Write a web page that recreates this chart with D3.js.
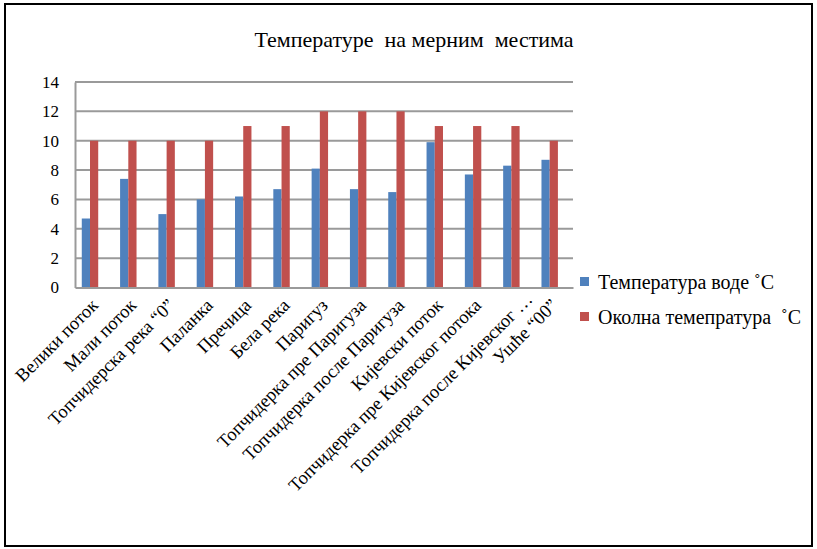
<!DOCTYPE html>
<html><head><meta charset="utf-8">
<script src="https://cdn.jsdelivr.net/npm/d3@7"></script>
<style>
html,body{margin:0;padding:0;background:#fff;}
svg{display:block;}
text{font-family:"Liberation Serif","Times New Roman",serif;fill:#000;}
</style></head>
<body>
<script>
const categories = ["Велики поток","Мали поток","Топчидерска река “0”","Паланка","Пречица","Бела река","Паригуз","Топчидерка пре Паригуза","Топчидерка после Паригуза","Кијевски поток","Топчидерка пре Кијевског потока","Топчидерка после Кијевског …","Ушће “00”"];
const waterTemp = [4.7,7.4,5.0,6.0,6.2,6.7,8.1,6.7,6.5,9.9,7.7,8.3,8.7];
const airTemp = [10,10,10,10,11,11,12,12,12,11,11,11,10];
const seriesNames = ["Температура воде ˚C","Околна темепратура  ˚C"];
const seriesColors = ["#4F81BD","#C0504D"];
const yTicks = [0,2,4,6,8,10,12,14];
const title = "Температуре  на мерним  местима";

const W = 817, H = 549;
const svg = d3.select("body").append("svg").attr("width",W).attr("height",H);
svg.append("rect").attr("x",5).attr("y",4).attr("width",807).attr("height",542)
  .attr("fill","#fff").attr("stroke","#000").attr("stroke-width",2);

const plot = {left:75, right:573, top:82, bottom:287.5};
const x = d3.scaleBand().domain(categories).range([plot.left, plot.right]).padding(0);
const y = d3.scaleLinear().domain([0,14]).range([plot.bottom, plot.top]);
const inner = d3.scaleBand().domain(seriesNames).range([0, x.bandwidth()])
  .paddingInner(0).paddingOuter(1.33).align(0.31);

svg.append("text").attr("x",414).attr("y",47).attr("text-anchor","middle")
  .style("font-size","22px").style("white-space","pre").text(title);

// gridlines
svg.append("g").selectAll("line").data(yTicks.filter(d=>d>0)).join("line")
  .attr("x1",plot.left).attr("x2",plot.right)
  .attr("y1",d=>y(d)).attr("y2",d=>y(d))
  .attr("stroke","#9a9a9a").attr("stroke-width",2);

// y axis
const yAxis = svg.append("g").attr("transform",`translate(${plot.left},0)`)
  .call(d3.axisLeft(y).tickValues(yTicks).tickSize(0).tickPadding(16));
yAxis.select(".domain").attr("stroke","#9a9a9a").attr("stroke-width",2);
yAxis.selectAll("text").style("font-size","17px").style("font-family","Liberation Serif, serif");

// bars
const data = categories.map((c,i)=>({cat:c, vals:[waterTemp[i], airTemp[i]]}));
const groups = svg.append("g").selectAll("g").data(data).join("g")
  .attr("transform",d=>`translate(${x(d.cat)},0)`);
groups.selectAll("rect").data(d=>d.vals.map((v,j)=>({v, s:seriesNames[j], c:seriesColors[j]})))
  .join("rect")
  .attr("x",d=>inner(d.s)).attr("width",inner.bandwidth())
  .attr("y",d=>y(d.v)).attr("height",d=>y(0)-y(d.v))
  .attr("fill",d=>d.c);

// x axis
const xAxis = svg.append("g").attr("transform",`translate(0,${plot.bottom})`)
  .call(d3.axisBottom(x).tickSize(0).tickPadding(0));
xAxis.select(".domain").attr("stroke","#9a9a9a").attr("stroke-width",2);
xAxis.selectAll("text").style("font-size","18.5px").style("font-family","Liberation Serif, serif")
  .attr("text-anchor","end").attr("dy","0")
  .attr("transform",d=> d.endsWith("…") ? "translate(18,13) rotate(-45)" : "translate(5,19) rotate(-45)");

// legend
const leg = svg.append("g").selectAll("g").data(seriesNames).join("g")
  .attr("transform",(d,i)=>`translate(580,${277+i*35})`);
leg.append("rect").attr("width",9).attr("height",9).attr("fill",(d,i)=>seriesColors[i]);
leg.append("text").attr("x",18).attr("y",12).style("font-size","20px").style("white-space","pre").text(d=>d);
</script>
</body></html>
